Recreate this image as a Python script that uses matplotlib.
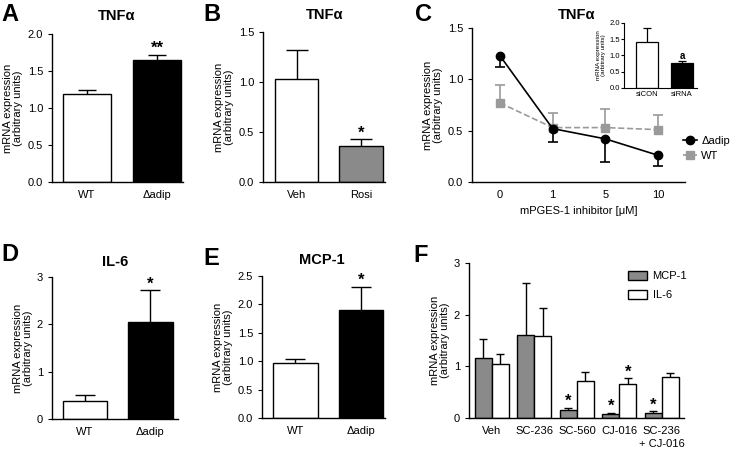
import matplotlib
matplotlib.use("Agg")
import matplotlib.pyplot as plt
from matplotlib.lines import Line2D
import numpy as np

plt.rcParams['font.family'] = ['Liberation Sans', 'DejaVu Sans']
plt.rcParams['font.size'] = 8
plt.rcParams['axes.linewidth'] = 1.0

GRAY = '#8a8a8a'
LGRAY = '#9a9a9a'
YLAB = "mRNA expression\n(arbitrary units)"

# Panel A - TNFa
a_labels = ['WT', 'Δadip']
a_vals = [1.19, 1.65]
a_err = [0.05, 0.07]

# Panel B - TNFa, rosiglitazone
b_labels = ['Veh', 'Rosi']
b_vals = [1.03, 0.36]
b_err = [0.29, 0.07]

# Panel C - TNFa vs mPGES-1 inhibitor
c_doses = ['0', '1', '5', '10']
c_adip = [1.23, 0.52, 0.42, 0.26]
c_adip_err = [0.11, 0.13, 0.23, 0.10]
c_wt = [0.77, 0.53, 0.53, 0.51]
c_wt_err = [0.17, 0.14, 0.18, 0.14]

# Panel C inset
ins_labels = ['siCON', 'siRNA']
ins_vals = [1.43, 0.77]
ins_err = [0.42, 0.05]

# Panel D - IL-6
d_labels = ['WT', 'Δadip']
d_vals = [0.39, 2.05]
d_err = [0.12, 0.67]

# Panel E - MCP-1
e_labels = ['WT', 'Δadip']
e_vals = [0.96, 1.90]
e_err = [0.08, 0.41]

# Panel F - COX inhibitors
f_labels = ['Veh', 'SC-236', 'SC-560', 'CJ-016', 'SC-236\n+ CJ-016']
f_mcp = [1.16, 1.60, 0.15, 0.07, 0.10]
f_mcp_err = [0.36, 1.01, 0.05, 0.03, 0.03]
f_il6 = [1.05, 1.58, 0.72, 0.65, 0.79]
f_il6_err = [0.18, 0.54, 0.17, 0.12, 0.09]

fig = plt.figure(figsize=(7.45, 4.51), dpi=100)
W, H = 745, 451


def px_axes(l, r, t, b):
    return fig.add_axes([l / W, 1 - b / H, (r - l) / W, (b - t) / H])


def style(ax, fs=8):
    ax.spines['top'].set_visible(False)
    ax.spines['right'].set_visible(False)
    ax.tick_params(axis='x', length=0, labelsize=fs, pad=6)
    ax.tick_params(axis='y', length=3, labelsize=fs, direction='out')


def up_err(ax, x, y, e, cap, color='k', lw=1.0):
    _, caps, _ = ax.errorbar(x, y, yerr=[np.zeros(len(e)), e], fmt='none',
                             ecolor=color, elinewidth=lw, capsize=cap,
                             capthick=lw, zorder=1)
    caps[0].set_visible(False)


def star(ax, x, y, s, fs=12, dy=-1):
    ax.annotate(s, (x, y), xytext=(0, dy), textcoords='offset points',
                ha='center', va='bottom', fontsize=fs, fontweight='bold')


def two_bars(ax, labels, vals, err, colors, width, xlim, ylim, yticks, fmt, cap, stars):
    x = np.arange(len(vals))
    up_err(ax, x, vals, err, cap)
    ax.bar(x, vals, width=width, color=colors, edgecolor='k', linewidth=1.0, zorder=2)
    ax.set_xticks(x)
    ax.set_xticklabels(labels)
    ax.set_xlim(*xlim)
    ax.set_ylim(*ylim)
    ax.set_yticks(yticks)
    ax.set_yticklabels([fmt.format(t) for t in yticks])
    ax.set_ylabel(YLAB, fontsize=8, labelpad=3, linespacing=1.0)
    style(ax)
    for i, s in enumerate(stars):
        if s:
            star(ax, x[i], vals[i] + err[i], s)


# A
axA = px_axes(52, 183, 34, 182)
two_bars(axA, a_labels, a_vals, a_err, ['white', 'black'], 0.686, (-0.5, 1.37), (0, 2.0),
         [0, 0.5, 1.0, 1.5, 2.0], '{:.1f}', 6.5, ['', '**'])

# B
axB = px_axes(263, 385, 32, 182)
two_bars(axB, b_labels, b_vals, b_err, ['white', GRAY], 0.67, (-0.52, 1.37), (0, 1.5),
         [0, 0.5, 1.0, 1.5], '{:.1f}', 8, ['', '*'])

# D
axD = px_axes(52, 178, 277, 419)
two_bars(axD, d_labels, d_vals, d_err, ['white', 'black'], 0.68, (-0.5, 1.42), (0, 3),
         [0, 1, 2, 3], '{:.0f}', 7, ['', '*'])

# E
axE = px_axes(262, 385, 276, 418)
two_bars(axE, e_labels, e_vals, e_err, ['white', 'black'], 0.68, (-0.51, 1.37), (0, 2.5),
         [0, 0.5, 1.0, 1.5, 2.0, 2.5], '{:.1f}', 7, ['', '*'])

# C
axC = px_axes(472, 685, 28, 182)
xc = np.arange(len(c_doses))
_, caps, _ = axC.errorbar(xc, c_wt, yerr=[np.zeros(4), c_wt_err], fmt='none', ecolor=LGRAY,
                          elinewidth=1.2, capsize=3.5, capthick=1.2, zorder=1)
caps[0].set_visible(False)
_, caps, _ = axC.errorbar(xc, c_adip, yerr=[c_adip_err, np.zeros(4)], fmt='none', ecolor='k',
                          elinewidth=1.2, capsize=3.5, capthick=1.2, zorder=1)
caps[1].set_visible(False)
axC.plot(xc, c_wt, color=LGRAY, ls='--', lw=1.2, marker='s', ms=6, zorder=3)
axC.plot(xc, c_adip, color='k', ls='-', lw=1.2, marker='o', ms=6, zorder=4)
axC.set_xticks(xc)
axC.set_xticklabels(c_doses)
axC.set_xlim(-0.53, 3.51)
axC.set_ylim(0, 1.5)
axC.set_yticks([0, 0.5, 1.0, 1.5])
axC.set_yticklabels(['0.0', '0.5', '1.0', '1.5'])
axC.set_ylabel(YLAB, fontsize=8, labelpad=3, linespacing=1.0)
axC.set_xlabel('mPGES-1 inhibitor [μM]', fontsize=8, labelpad=4)
style(axC)
h = [Line2D([], [], color='k', marker='o', ms=6, lw=1.2),
     Line2D([], [], color=LGRAY, marker='s', ms=6, lw=1.2, ls='--')]
axC.legend(h, ['Δadip', 'WT'], loc='center left', bbox_to_anchor=(0.99, 0.22), frameon=False,
           fontsize=8, handlelength=1.3, handletextpad=0.35, labelspacing=0.45,
           borderpad=0, borderaxespad=0)

# C inset
axI = px_axes(624, 697, 23, 88)
xi = np.arange(2)
up_err(axI, xi, ins_vals, ins_err, 3, lw=0.9)
axI.bar(xi, ins_vals, width=0.63, color=['white', 'black'], edgecolor='k', linewidth=0.9, zorder=2)
axI.set_xticks(xi)
axI.set_xticklabels(ins_labels)
axI.set_xlim(-0.66, 1.43)
axI.set_ylim(0, 2.0)
axI.set_yticks([0, 0.5, 1.0, 1.5, 2.0])
axI.set_yticklabels(['0.0', '0.5', '1.0', '1.5', '2.0'])
axI.set_ylabel(YLAB, fontsize=4.5, labelpad=2, linespacing=1.0)
style(axI, fs=5.5)
axI.tick_params(axis='y', length=2, pad=1)
axI.tick_params(axis='x', pad=2)
for s in ['left', 'bottom']:
    axI.spines[s].set_linewidth(0.8)
star(axI, xi[1], ins_vals[1] + ins_err[1], 'a', fs=7, dy=0.5)

# F
axF = px_axes(469, 684, 263, 418)
xf = np.arange(len(f_labels))
bw = 0.4
up_err(axF, xf - bw / 2, f_mcp, f_mcp_err, 3.2)
up_err(axF, xf + bw / 2, f_il6, f_il6_err, 3.2)
axF.bar(xf - bw / 2, f_mcp, width=bw, color=GRAY, edgecolor='k', linewidth=1.0, zorder=2, label='MCP-1')
axF.bar(xf + bw / 2, f_il6, width=bw, color='white', edgecolor='k', linewidth=1.0, zorder=2, label='IL-6')
axF.set_xticks(xf)
axF.set_xticklabels(f_labels, linespacing=1.35, va='top')
axF.set_xlim(-0.54, 4.52)
axF.set_ylim(0, 3)
axF.set_yticks([0, 1, 2, 3])
axF.set_ylabel(YLAB, fontsize=8, labelpad=3, linespacing=1.0)
style(axF)
mcp_stars = ['', '', '*', '*', '*']
il6_stars = ['', '', '', '*', '']
for i in range(len(xf)):
    if mcp_stars[i]:
        star(axF, xf[i] - bw / 2, f_mcp[i] + f_mcp_err[i], '*')
    if il6_stars[i]:
        star(axF, xf[i] + bw / 2, f_il6[i] + f_il6_err[i], '*')
axF.legend(loc='upper left', bbox_to_anchor=(0.74, 0.95), frameon=False, fontsize=8,
           handlelength=1.7, handleheight=0.95, handletextpad=0.5, labelspacing=0.75,
           borderpad=0, borderaxespad=0)

# titles
for (x, y, t) in [(117, 16, 'TNFα'), (325, 15, 'TNFα'), (577, 15, 'TNFα'),
                  (115, 262, 'IL-6'), (322, 260, 'MCP-1')]:
    fig.text(x / W, 1 - y / H, t, ha='center', va='center', fontsize=10.5, fontweight='bold')

# panel letters
for (x, y, t) in [(1, 3, 'A'), (203, 3, 'B'), (415, 3, 'C'),
                  (1, 243, 'D'), (203, 247, 'E'), (413, 244, 'F')]:
    fig.text(x / W, 1 - y / H, t, ha='left', va='top', fontsize=17, fontweight='bold')

fig.savefig('out.png', dpi=100)
